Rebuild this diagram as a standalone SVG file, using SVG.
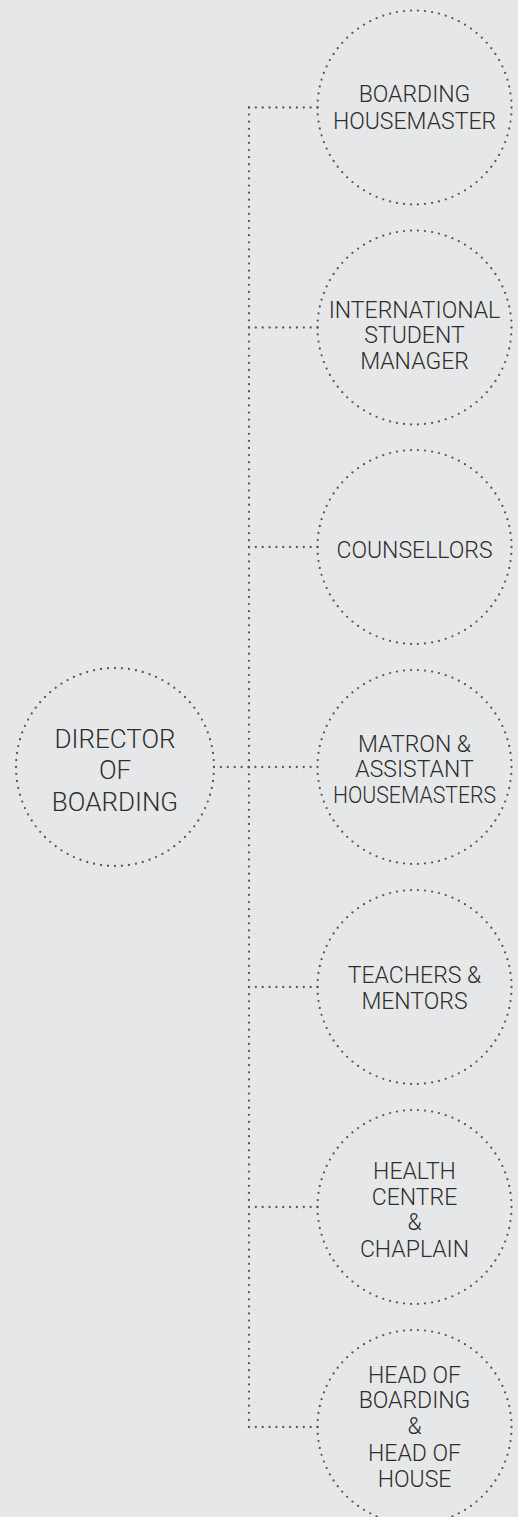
<svg xmlns="http://www.w3.org/2000/svg" width="518" height="1517" viewBox="0 0 518 1517">
<style>
.bg{fill:#e6e7e8}
.ring{fill:none;stroke:#5a5a5a;stroke-width:2.3;stroke-linecap:round;stroke-dasharray:0 1}
.dot{fill:none;stroke:#5a5a5a;stroke-width:2.3;stroke-linecap:round;stroke-dasharray:0 1}
.t{font-family:Roboto,"Liberation Sans",sans-serif;font-weight:300;font-size:23px;fill:#2e2e2e;text-anchor:middle}
.tb{font-size:26px}
</style>
<rect class="bg" x="0" y="0" width="518" height="1517"/>
<g id="connectors">
<line class="dot" x1="249" y1="107.5" x2="249" y2="1427" pathLength="186"/>
<line class="dot" x1="214" y1="767" x2="317.5" y2="767" pathLength="15"/>
<line class="dot" x1="249" y1="107.5" x2="317.5" y2="107.5" pathLength="10"/>
<line class="dot" x1="249" y1="327.5" x2="317.5" y2="327.5" pathLength="10"/>
<line class="dot" x1="249" y1="547" x2="317.5" y2="547" pathLength="10"/>
<line class="dot" x1="249" y1="987" x2="317.5" y2="987" pathLength="10"/>
<line class="dot" x1="249" y1="1207" x2="317.5" y2="1207" pathLength="10"/>
<line class="dot" x1="249" y1="1427" x2="317.5" y2="1427" pathLength="10"/>
</g>
<g id="director">
<circle class="ring" cx="115" cy="767" r="99" pathLength="88"/>
<text class="t tb" x="115" y="747.7">DIRECTOR</text>
<text class="t tb" x="115" y="779.3">OF</text>
<text class="t tb" x="115" y="810.7">BOARDING</text>
</g>
<g id="boarding-housemaster">
<circle class="ring" cx="414.5" cy="107.5" r="97" pathLength="86"/>
<text class="t" x="414.5" y="102">BOARDING</text>
<text class="t" x="414.5" y="128.7">HOUSEMASTER</text>
</g>
<g id="international-student-manager">
<circle class="ring" cx="414.5" cy="327.5" r="97" pathLength="86"/>
<text class="t" x="414.5" y="317.7">INTERNATIONAL</text>
<text class="t" x="414.5" y="343.3">STUDENT</text>
<text class="t" x="414.5" y="369">MANAGER</text>
</g>
<g id="counsellors">
<circle class="ring" cx="414.5" cy="547" r="97" pathLength="86"/>
<text class="t" x="414.5" y="557.7">COUNSELLORS</text>
</g>
<g id="matron">
<circle class="ring" cx="414.5" cy="767" r="97" pathLength="86"/>
<text class="t" x="414.5" y="752.3">MATRON &amp;</text>
<text class="t" x="414.5" y="777.3">ASSISTANT</text>
<text class="t" x="414.5" y="802.7" textLength="163" lengthAdjust="spacingAndGlyphs">HOUSEMASTERS</text>
</g>
<g id="teachers">
<circle class="ring" cx="414.5" cy="987" r="97" pathLength="86"/>
<text class="t" x="414.5" y="982.7">TEACHERS &amp;</text>
<text class="t" x="414.5" y="1009">MENTORS</text>
</g>
<g id="health-centre">
<circle class="ring" cx="414.5" cy="1207" r="97" pathLength="86"/>
<text class="t" x="414.5" y="1179">HEALTH</text>
<text class="t" x="414.5" y="1204.7">CENTRE</text>
<text class="t" x="414.5" y="1230.3">&amp;</text>
<text class="t" x="414.5" y="1256.7">CHAPLAIN</text>
</g>
<g id="head-of-boarding">
<circle class="ring" cx="414.5" cy="1427" r="97" pathLength="86"/>
<text class="t" x="414.5" y="1382.7">HEAD OF</text>
<text class="t" x="414.5" y="1408.3">BOARDING</text>
<text class="t" x="414.5" y="1434.3">&amp;</text>
<text class="t" x="414.5" y="1460.7">HEAD OF</text>
<text class="t" x="414.5" y="1486.7">HOUSE</text>
</g>
</svg>
